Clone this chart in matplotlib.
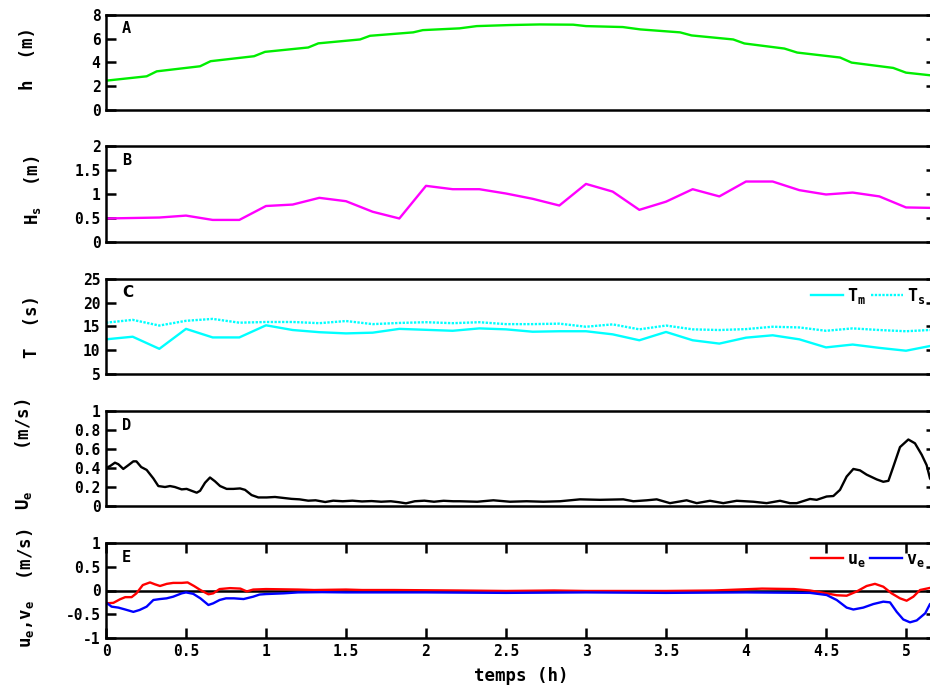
import numpy as np
import matplotlib.pyplot as plt

plt.rcParams['font.family'] = ['DejaVu Sans Mono']
plt.rcParams['font.weight'] = 'bold'
plt.rcParams['mathtext.fontset'] = 'custom'
plt.rcParams['mathtext.rm'] = 'DejaVu Sans Mono:bold'
plt.rcParams['mathtext.it'] = 'DejaVu Sans Mono:bold'
plt.rcParams['mathtext.bf'] = 'DejaVu Sans Mono:bold'

# --- A: water height h (m)
h_t = [0, 0.254, 0.317, 0.588, 0.654, 0.925, 0.994, 1.264, 1.327, 1.588, 1.65, 1.92, 1.98,
       2.21, 2.317, 2.525, 2.71, 2.92, 3.0, 3.23, 3.34, 3.588, 3.66, 3.92, 3.99, 4.24, 4.32,
       4.588, 4.66, 4.92, 5.0, 5.19]
h_val = [2.44, 2.81, 3.23, 3.66, 4.09, 4.51, 4.88, 5.25, 5.6, 5.93, 6.24, 6.53, 6.72,
         6.87, 7.06, 7.15, 7.2, 7.18, 7.06, 6.98, 6.78, 6.53, 6.27, 5.93, 5.59, 5.16, 4.82,
         4.4, 3.97, 3.52, 3.12, 2.84]

# --- B, C: wave parameters every 10 min
wave_t = [k / 6 for k in range(32)]
hs_val = [0.49, 0.50, 0.51, 0.55, 0.46, 0.46, 0.75, 0.78, 0.92, 0.85, 0.63, 0.49,
          1.17, 1.10, 1.10, 1.01, 0.90, 0.76, 1.21, 1.05, 0.67, 0.84, 1.10, 0.95,
          1.26, 1.26, 1.08, 0.99, 1.03, 0.95, 0.72, 0.71]
tm_val = [12.3, 12.85, 10.3, 14.5, 12.7, 12.7, 15.25, 14.26, 13.8, 13.55, 13.7, 14.5,
          14.3, 14.1, 14.6, 14.4, 13.9, 14.0, 14.0, 13.35, 12.1, 13.85, 12.1, 11.4,
          12.65, 13.15, 12.3, 10.6, 11.2, 10.5, 9.9, 11.0]
ts_val = [15.8, 16.4, 15.2, 16.2, 16.6, 15.8, 15.95, 15.95, 15.7, 16.15, 15.5, 15.75,
          15.9, 15.7, 15.9, 15.5, 15.5, 15.6, 14.95, 15.45, 14.4, 15.2, 14.4, 14.26,
          14.45, 14.95, 14.8, 14.1, 14.6, 14.26, 14.0, 14.3]

# --- D: Ue (m/s)
ue_t = [0, 0.025, 0.056, 0.077, 0.108, 0.14, 0.171, 0.19, 0.22, 0.254, 0.296, 0.327, 0.369,
        0.40, 0.43, 0.473, 0.504, 0.535, 0.567, 0.588, 0.619, 0.65, 0.681, 0.713, 0.754,
        0.796, 0.838, 0.869, 0.91, 0.952, 1.004, 1.056, 1.108, 1.16, 1.21, 1.264, 1.31,
        1.37, 1.42, 1.48, 1.54, 1.60, 1.66, 1.72, 1.78, 1.83, 1.875, 1.93, 1.99, 2.05,
        2.11, 2.17, 2.2125, 2.32, 2.421, 2.525, 2.629, 2.733, 2.8375, 2.9625, 3.0875,
        3.233, 3.296, 3.38, 3.442, 3.525, 3.629, 3.692, 3.775, 3.858, 3.942, 4.046, 4.129,
        4.2125, 4.275, 4.317, 4.40, 4.442, 4.504, 4.546, 4.5875, 4.629, 4.671, 4.7125,
        4.754, 4.817, 4.858, 4.89, 4.92, 4.9625, 5.0146, 5.056, 5.098, 5.129, 5.15, 5.19]
ue_val = [0.40, 0.42, 0.456, 0.44, 0.39, 0.43, 0.47, 0.47, 0.41, 0.38, 0.29, 0.21, 0.20,
          0.21, 0.20, 0.175, 0.18, 0.16, 0.14, 0.16, 0.245, 0.30, 0.26, 0.21, 0.18,
          0.18, 0.185, 0.17, 0.115, 0.09, 0.09, 0.095, 0.085, 0.075, 0.07, 0.056, 0.06,
          0.042, 0.056, 0.05, 0.056, 0.048, 0.052, 0.045, 0.05, 0.04, 0.028, 0.05, 0.056, 0.045,
          0.055, 0.05, 0.05, 0.045, 0.06, 0.045, 0.05, 0.045, 0.05, 0.07, 0.065,
          0.07, 0.05, 0.06, 0.07, 0.03, 0.06, 0.03, 0.055, 0.03, 0.055, 0.045, 0.03,
          0.055, 0.03, 0.03, 0.074, 0.065, 0.1, 0.105, 0.17, 0.31, 0.39, 0.375,
          0.33, 0.28, 0.255, 0.265, 0.41, 0.62, 0.70, 0.66, 0.54, 0.43, 0.29, 0.2]

# --- E: ue, ve components (m/s)
u_t = [0, 0.046, 0.0875, 0.12, 0.16, 0.19, 0.23, 0.275, 0.306, 0.3375, 0.38, 0.42, 0.473,
       0.51, 0.55, 0.59, 0.64, 0.67, 0.71, 0.775, 0.84, 0.88, 0.92, 1.0, 1.1, 1.2, 1.3,
       1.4, 1.5, 1.6, 1.8, 2.0, 2.2, 2.5, 2.8, 3.0, 3.5, 3.8, 4.1, 4.3, 4.4, 4.504,
       4.567, 4.629, 4.692, 4.754, 4.806, 4.858, 4.91, 4.9625, 5.004, 5.046, 5.0875, 5.15, 5.19]
u_val = [-0.27, -0.26, -0.185, -0.14, -0.14, -0.06, 0.115, 0.17, 0.13, 0.095, 0.14, 0.16, 0.16,
         0.17, 0.095, 0.01, -0.08, -0.06, 0.03, 0.05, 0.04, -0.02, 0.02, 0.03, 0.025, 0.02, 0.01,
         0.015, 0.02, 0.01, 0.01, 0.005, 0.0, -0.01, 0.0, -0.01, -0.01, 0.0, 0.04, 0.03, 0.0, -0.06,
         -0.1, -0.11, -0.02, 0.095, 0.14, 0.08, -0.06, -0.165, -0.215, -0.13, 0.01, 0.055, 0.06]
v_t = [0, 0.035, 0.077, 0.12, 0.171, 0.21, 0.254, 0.296, 0.3375, 0.379, 0.42, 0.473, 0.5,
       0.545, 0.59, 0.64, 0.67, 0.71, 0.75, 0.8, 0.86, 0.92, 0.96, 1.0, 1.11, 1.2, 1.35,
       1.5, 2.0, 2.5, 3.0, 3.5, 4.0, 4.40, 4.504, 4.567, 4.629, 4.671, 4.733, 4.796,
       4.858, 4.9, 4.942, 4.983, 5.025, 5.067, 5.12, 5.15, 5.19]
v_val = [-0.25, -0.34, -0.36, -0.40, -0.45, -0.41, -0.34, -0.2, -0.18, -0.165, -0.13, -0.06, -0.04,
         -0.07, -0.165, -0.305, -0.27, -0.2, -0.165, -0.165, -0.18, -0.13, -0.085, -0.075, -0.06,
         -0.04, -0.035, -0.04, -0.04, -0.05, -0.04, -0.05, -0.04, -0.05, -0.095, -0.2, -0.36,
         -0.40, -0.36, -0.285, -0.235, -0.25, -0.45, -0.61, -0.67, -0.63, -0.48, -0.285, -0.2]

fig = plt.figure(figsize=(9.3, 6.87), dpi=100)
W, H = 930.0, 687.0
left, right = 106, 936
tops = [15, 146, 279, 411, 543]
bottoms = [109.5, 242, 374, 506, 638]
xmax = (right - left) / 160.0

axs = []
for i in range(5):
    ax = fig.add_axes([left / W, 1 - bottoms[i] / H, (right - left) / W,
                       (bottoms[i] - tops[i]) / H])
    ax.set_xlim(0, xmax)
    for s in ax.spines.values():
        s.set_linewidth(1.8)
    last = (i == 4)
    ax.tick_params(direction='in', length=7, width=1.8, labelsize=10.5, pad=4,
                   left=True, right=True)
    ax.tick_params(axis='x', top=last, bottom=last, labelbottom=last)
    axs.append(ax)

lw = 1.7
axA, axB, axC, axD, axE = axs

axA.plot(h_t, h_val, color='#00ee00', lw=lw)
axA.set_ylim(0, 8)
axA.set_yticks([0, 2, 4, 6, 8])

axB.plot(wave_t, hs_val, color='#ff00ff', lw=lw)
axB.set_ylim(0, 2)
axB.set_yticks([0, 0.5, 1, 1.5, 2], ['0', '0.5', '1', '1.5', '2'])

axC.plot(wave_t, tm_val, color='#00ffff', lw=lw, label='T$_m$')
axC.plot(wave_t, ts_val, color='#00ffff', lw=lw, ls=(0, (1, 0.6)), label='T$_s$')
axC.set_ylim(5, 25)
axC.set_yticks([5, 10, 15, 20, 25])

axD.plot(ue_t, ue_val, color='black', lw=lw)
axD.set_ylim(0, 1)
axD.set_yticks([0, 0.2, 0.4, 0.6, 0.8, 1], ['0', '0.2', '0.4', '0.6', '0.8', '1'])

axE.axhline(0, color='black', lw=1.8)
axE.plot(u_t, u_val, color='#ff0000', lw=lw, label='u$_e$')
axE.plot(v_t, v_val, color='#0000ff', lw=lw, label='v$_e$')
axE.set_ylim(-1, 1)
axE.set_yticks([-1, -0.5, 0, 0.5, 1], ['-1', '-0.5', '0', '0.5', '1'])
axE.set_xticks(np.arange(0, 5.01, 0.5), ['0', '0.5', '1', '1.5', '2', '2.5', '3', '3.5', '4', '4.5', '5'])
axE.set_xlabel('temps (h)', fontsize=12.5, fontweight='bold', labelpad=6)

for ax in (axC, axE):
    ax.legend(loc='upper right', bbox_to_anchor=((925 - left) / (right - left), 0.93),
              ncol=2, frameon=False, fontsize=12, borderaxespad=0, borderpad=0,
              handlelength=1.9, handletextpad=0.25, columnspacing=0.3,
              prop={'weight': 'bold', 'size': 12})

for ax in axs:
    for lab in ax.get_xticklabels() + ax.get_yticklabels():
        lab.set_fontweight('bold')

for ax, letter in zip(axs, 'ABCDE'):
    fam = ['DejaVu Sans'] if letter == 'C' else ['DejaVu Sans Mono']
    ax.text(16 / 830, 1 - 14 / 95, letter, transform=ax.transAxes, fontsize=11,
            fontweight='bold', family=fam, va='center', ha='left')

ylabels = ['h  (m)', 'H$_s$  (m)', 'T  (s)', 'U$_e$    (m/s)', 'u$_e$,v$_e$  (m/s)']
label_x = [28, 32, 32, 24, 25]
label_y = [58, 190, 326, 454, 588]
for txt, x, y in zip(ylabels, label_x, label_y):
    fig.text(x / W, 1 - y / H, txt, rotation=90, ha='center', va='center',
             fontsize=12.5, fontweight='bold')

plt.savefig('out.png', dpi=100)
